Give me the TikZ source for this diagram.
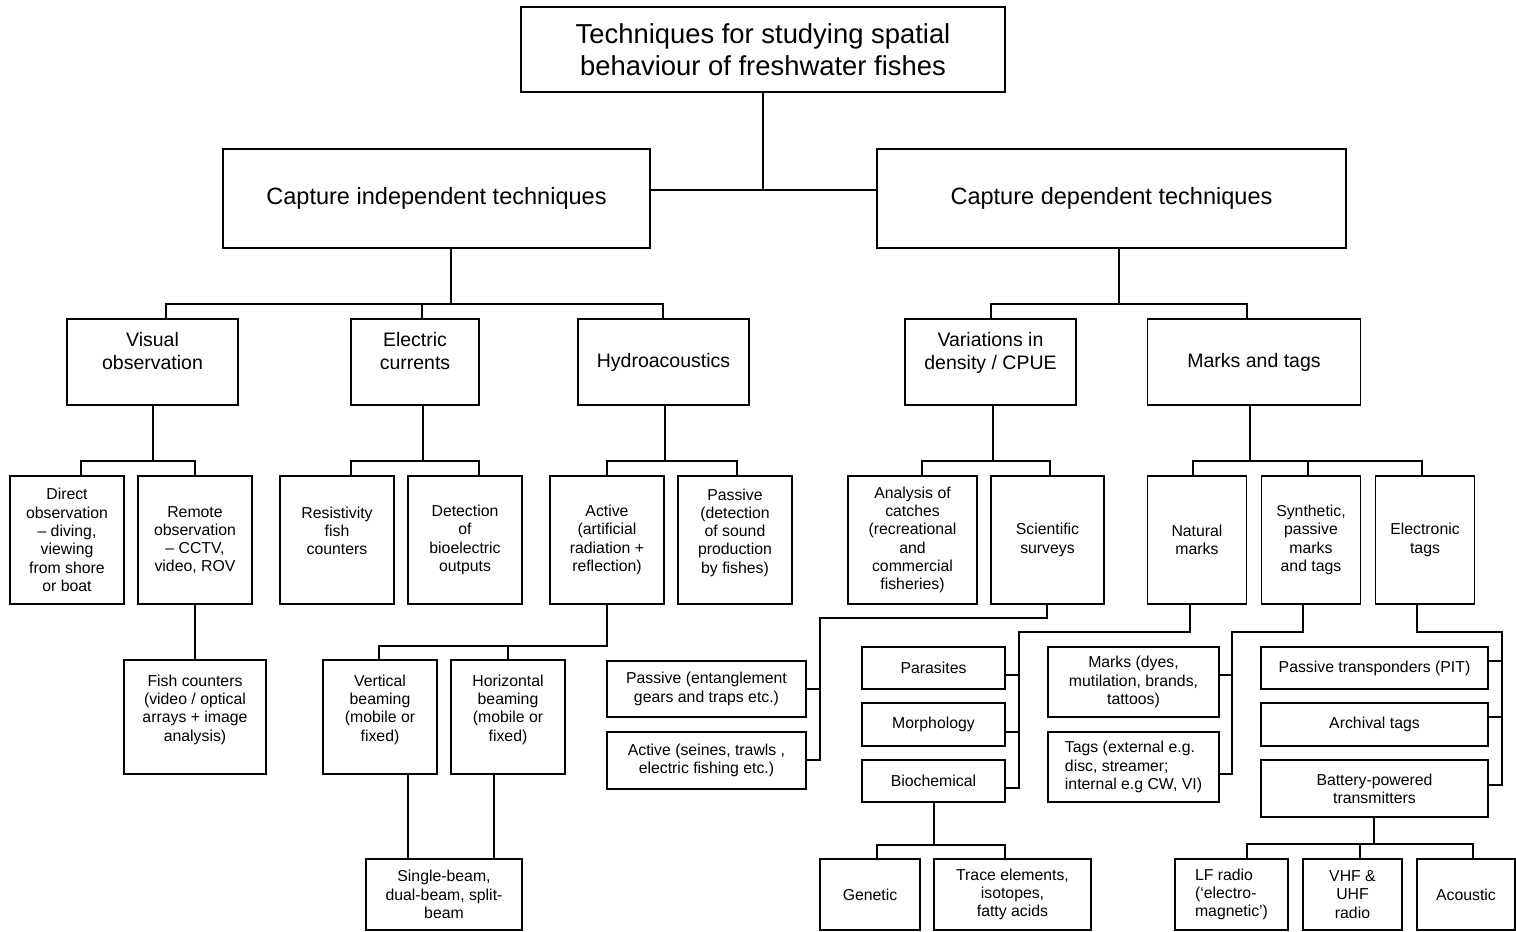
\documentclass[tikz,border=0pt]{standalone}
\usepackage{fontspec}
\setmainfont{Liberation Sans}

% parent -> stem x, bus y, children with their drop x
\newcommand{\fork}[4]{%
  \foreach \c/\x in {#4}
    \draw (#1.south -| #2,0) |- (\x,#3) -- (\c.north -| \x,0);}
% parent -> drop x, bar y, spine x, children with their tick y
\newcommand{\comb}[5]{%
  \foreach \c/\y in {#5}
    \draw (#1.south -| #2,0) |- (#4,#3) |- (\c.east |- 0,\y);}
% trailing empty line, pushes the text up a little
\newcommand{\lift}{\\ \mbox{}}

\begin{document}
\begin{tikzpicture}[x=0.02cm,y=-0.02cm,line width=0.9pt,
    box/.style={shape=rectangle,draw=black,align=center,inner sep=0pt},
    boxsize/.style 2 args={minimum width=#1*0.02cm,minimum height=#2*0.02cm},
    titlebox/.style={box,font=\fontsize{15.6}{18.2}\selectfont},
    mainbox/.style={box,font=\fontsize{13.4}{16}\selectfont},
    groupbox/.style={box,font=\fontsize{11.1}{13.1}\selectfont},
    leafbox/.style={box,font=\fontsize{9}{10.4}\selectfont}]

  \fill[white] (0,0) rectangle (1516,931);
  \useasboundingbox (0,0) rectangle (1516,931);

  % top
  \node (title)[titlebox,boxsize={484}{85}]
      at (763,49.5) {Techniques for studying spatial\\behaviour of freshwater fishes};
  \node (capind)[mainbox,boxsize={427}{99}]
      at (436.5,198.5) {Capture independent techniques};
  \node (capdep)[mainbox,boxsize={469}{99}]
      at (1111.5,198.5) {Capture dependent techniques};

  % second level
  \node (visual)[groupbox,boxsize={171}{86}]
      at (152.5,362) {Visual\\observation\lift};
  \node (electric)[groupbox,boxsize={128}{86}]
      at (415,362) {Electric\\currents\lift};
  \node (hydro)[groupbox,boxsize={171}{86}]
      at (663.5,362) {Hydroacoustics};
  \node (density)[groupbox,boxsize={171}{86}]
      at (990.5,362) {Variations in\\density / CPUE\lift};
  \node (marktag)[groupbox,boxsize={213}{86}]
      at (1254,362) {Marks and tags};

  % third level
  \node (direct)[leafbox,boxsize={114}{128}]
      at (67,540) {Direct\\observation\\– diving,\\viewing\\from shore\\or boat};
  \node (remote)[leafbox,boxsize={114}{128}]
      at (195,540) {Remote\\observation\\– CCTV,\\video, ROV};
  \node (resist)[leafbox,boxsize={114}{128}]
      at (337,540) {Resistivity\\fish\\counters\lift};
  \node (detect)[leafbox,boxsize={114}{128}]
      at (465,540) {Detection\\of\\bioelectric\\outputs};
  \node (active)[leafbox,boxsize={114}{128}]
      at (607,540) {Active\\(artificial\\radiation +\\reflection)};
  \node (passive)[leafbox,boxsize={114}{128}]
      at (735,540) {Passive\\(detection\\of sound\\production\\by fishes)\lift};
  \node (catches)[leafbox,boxsize={129}{128}]
      at (912.5,540) {Analysis of\\catches\\(recreational\\and\\commercial\\fisheries)};
  \node (surveys)[leafbox,boxsize={113}{128}]
      at (1047.5,540) {Scientific\\surveys};
  \node (natural)[leafbox,boxsize={99}{128}]
      at (1197,540) {Natural\\marks};
  \node (synth)[leafbox,boxsize={99}{128}]
      at (1311,540) {Synthetic,\\passive\\marks\\and tags};
  \node (electronic)[leafbox,boxsize={99}{128}]
      at (1425,540) {Electronic\\tags};

  % fourth level
  \node (fishcount)[leafbox,boxsize={142}{114}]
      at (195,717) {Fish counters\\(video / optical\\arrays + image\\analysis)\lift};
  \node (vertbeam)[leafbox,boxsize={114}{114}]
      at (380,717) {Vertical\\beaming\\(mobile or\\fixed)\lift};
  \node (horibeam)[leafbox,boxsize={114}{114}]
      at (508,717) {Horizontal\\beaming\\(mobile or\\fixed)\lift};
  \node (beamtype)[leafbox,boxsize={156}{71}]
      at (444,894.5) {Single-beam,\\dual-beam, split-\\beam};
  \node (passgear)[leafbox,boxsize={199}{56}]
      at (706.5,689) {Passive (entanglement\\gears and traps etc.)};
  \node (actgear)[leafbox,boxsize={199}{57}]
      at (706.5,760.5) {Active (seines, trawls ,\\electric fishing etc.)};
  \node (parasites)[leafbox,boxsize={143}{42}]
      at (933.5,668) {Parasites};
  \node (morph)[leafbox,boxsize={143}{43}]
      at (933.5,724.5) {Morphology};
  \node (biochem)[leafbox,boxsize={143}{42}]
      at (933.5,781) {Biochemical};
  \node (genetic)[leafbox,boxsize={100}{71}]
      at (870,894.5) {Genetic};
  \node (trace)[leafbox,boxsize={157}{71}]
      at (1012.5,894.5) {Trace elements,\\isotopes,\\fatty acids};
  \node (marksdye)[leafbox,boxsize={171}{70}]
      at (1133.5,682) {Marks (dyes,\\mutilation, brands,\\tattoos)};
  \node (tagsext)[leafbox,boxsize={171}{70},align=left]
      at (1133.5,767) {Tags (external e.g.\\disc, streamer;\\internal e.g CW, VI)};
  \node (pit)[leafbox,boxsize={227}{42}]
      at (1374.5,668) {Passive transponders (PIT)};
  \node (archival)[leafbox,boxsize={227}{43}]
      at (1374.5,724.5) {Archival tags};
  \node (battery)[leafbox,boxsize={227}{57}]
      at (1374.5,788.5) {Battery-powered\\transmitters};
  \node (lfradio)[leafbox,boxsize={113}{71},align=left]
      at (1231.5,894.5) {LF radio\\(‘electro-\\magnetic’)};
  \node (vhf)[leafbox,boxsize={99}{71}]
      at (1352.5,894.5) {VHF \&\\UHF\\radio};
  \node (acoustic)[leafbox,boxsize={98}{71}]
      at (1466,894.5) {Acoustic};

  % connectors
  \draw (title.south) -- (title.south |- 0,190);
  \draw (capind.east |- 0,190) -- (capdep.west |- 0,190);

  \fork{capind}{451}{304}{visual/166, electric/422, hydro/663}
  \fork{capdep}{1119}{304}{density/991, marktag/1247}
  \fork{visual}{153}{461}{direct/81, remote/195}
  \fork{electric}{423}{461}{resist/351, detect/479}
  \fork{hydro}{665}{461}{active/607, passive/737}
  \fork{density}{993}{461}{catches/922, surveys/1050}
  \fork{marktag}{1250}{461}{natural/1193, synth/1308, electronic/1422}

  \draw (remote.south) -- (fishcount.north);
  \fork{active}{607}{646}{vertbeam/379, horibeam/508}
  \draw (vertbeam.south -| 408,0) -- (beamtype.north -| 408,0);
  \draw (horibeam.south -| 494,0) -- (beamtype.north -| 494,0);

  \comb{surveys}{1047}{618}{820}{passgear/689, actgear/760}
  \comb{natural}{1190}{632}{1019}{parasites/675, morph/732, biochem/788}
  \comb{synth}{1303}{632}{1232}{marksdye/675, tagsext/774}
  \comb{electronic}{1417}{632}{1502}{pit/661, archival/717, battery/785}

  \fork{biochem}{934}{845}{genetic/877, trace/1005}
  \fork{battery}{1374}{844}{lfradio/1247, vhf/1360, acoustic/1473}
\end{tikzpicture}
\end{document}
